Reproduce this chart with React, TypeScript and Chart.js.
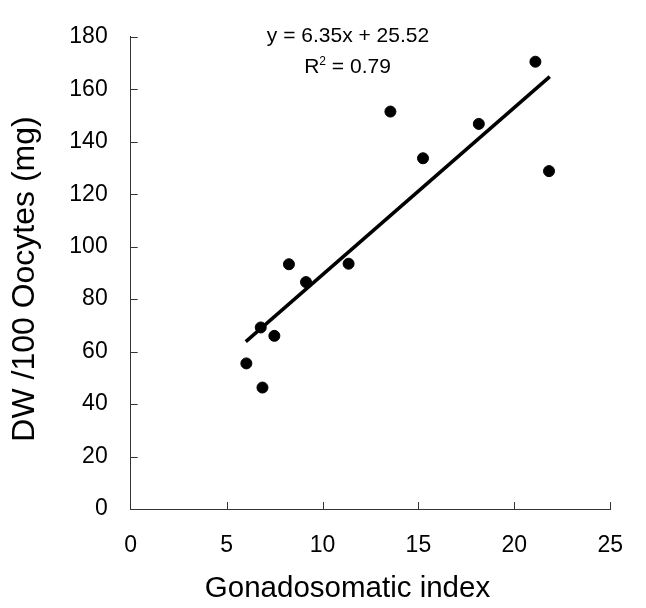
import React, { useEffect, useRef } from "react";
import { Chart, registerables } from "chart.js";

Chart.register(...registerables);

// ---- data ----
const gsi = [6.03, 6.87, 6.78, 7.49, 8.25, 9.14, 11.36, 13.54, 15.24, 18.15, 21.1, 21.81];
const dwPer100 = [55.5, 46.3, 69.2, 66.0, 93.3, 86.5, 93.5, 151.5, 133.7, 146.8, 170.5, 128.8];
const trendX = [6.0, 21.85];
const trendY = [63.8, 164.8];
const xTicks = [0, 5, 10, 15, 20, 25];
const yTicks = [0, 20, 40, 60, 80, 100, 120, 140, 160, 180];
const xTitle = "Gonadosomatic index";
const yTitle = "DW /100 Oocytes (mg)";
const eqLine = "y = 6.35x + 25.52";
const r2Value = "0.79";

const FONT = '"Liberation Sans", Arial, sans-serif';
const AXIS = "#333";

const decor = {
  id: "decor",
  afterDraw(chart: any) {
    const { ctx, scales } = chart;
    const xs = scales.x;
    const ys = scales.y;
    const bottom = ys.getPixelForValue(0);
    const left = xs.getPixelForValue(0);
    ctx.save();
    ctx.strokeStyle = AXIS;
    ctx.lineWidth = 1;
    ctx.beginPath();
    xTicks.filter((v) => v > 0).forEach((v) => {
      const px = Math.round(xs.getPixelForValue(v)) + 0.5;
      ctx.moveTo(px, bottom);
      ctx.lineTo(px, bottom - 7);
    });
    yTicks.filter((v) => v > 0).forEach((v) => {
      const py = Math.round(ys.getPixelForValue(v)) + 0.5;
      ctx.moveTo(left, py);
      ctx.lineTo(left + 7, py);
    });
    ctx.stroke();

    ctx.fillStyle = "#000";
    // x title
    ctx.font = `29.5px ${FONT}`;
    ctx.textAlign = "center";
    ctx.textBaseline = "alphabetic";
    ctx.fillText(xTitle, 347.5, 597);
    // y title
    ctx.save();
    ctx.font = `32px ${FONT}`;
    ctx.translate(34, 279);
    ctx.rotate(-Math.PI / 2);
    ctx.fillText(yTitle, 0, 0);
    ctx.restore();

    // equation
    ctx.font = `21px ${FONT}`;
    ctx.textAlign = "center";
    ctx.fillText(eqLine, 348, 41.7);
    ctx.textAlign = "left";
    const rW = ctx.measureText("R").width;
    const restText = " = " + r2Value;
    const restW = ctx.measureText(restText).width;
    ctx.font = `12px ${FONT}`;
    const supW = ctx.measureText("2").width;
    const total = rW + supW + restW;
    let sx = 347.5 - total / 2;
    ctx.font = `21px ${FONT}`;
    ctx.fillText("R", sx, 72.7);
    sx += rW;
    ctx.font = `12px ${FONT}`;
    ctx.fillText("2", sx, 64.6);
    sx += supW;
    ctx.font = `21px ${FONT}`;
    ctx.fillText(restText, sx, 72.7);
    ctx.restore();
  },
};

export default function App() {
  const canvasRef = useRef<HTMLCanvasElement | null>(null);

  useEffect(() => {
    if (!canvasRef.current) return;
    const chart = new Chart(canvasRef.current, {
      type: "scatter",
      data: {
        datasets: [
          {
            type: "scatter",
            data: gsi.map((x, i) => ({ x, y: dwPer100[i] })),
            backgroundColor: "#000",
            borderColor: "#000",
            pointRadius: 5.5,
            pointBorderWidth: 1,
          },
          {
            type: "line",
            data: trendX.map((x, i) => ({ x, y: trendY[i] })),
            borderColor: "#000",
            borderWidth: 3.5,
            pointRadius: 0,
            fill: false,
          } as any,
        ],
      },
      options: {
        animation: false,
        responsive: false,
        devicePixelRatio: 1,
        events: [],
        layout: { padding: { left: 0, top: 24, right: 27.7, bottom: 0 } },
        plugins: { legend: { display: false }, tooltip: { enabled: false } },
        scales: {
          x: {
            type: "linear",
            min: 0,
            max: 25,
            afterBuildTicks: (s: any) => {
              s.ticks = xTicks.map((v) => ({ value: v }));
            },
            afterFit: (s: any) => {
              s.height = 99;
            },
            grid: { display: false, drawTicks: false },
            border: { display: true, color: AXIS, width: 1 },
            ticks: {
              padding: 23,
              color: "#000",
              font: { family: FONT, size: 23 },
              maxRotation: 0,
              autoSkip: false,
            },
          },
          y: {
            type: "linear",
            min: 0,
            max: 180,
            afterBuildTicks: (s: any) => {
              s.ticks = yTicks.map((v) => ({ value: v }));
            },
            afterFit: (s: any) => {
              s.width = 130.7;
            },
            grid: { display: false, drawTicks: false },
            border: { display: true, color: AXIS, width: 1 },
            ticks: {
              padding: 23,
              color: "#000",
              font: { family: FONT, size: 23 },
              autoSkip: false,
            },
          },
        },
      },
      plugins: [decor],
    });
    return () => chart.destroy();
  }, []);

  return (
    <div style={{ position: "fixed", left: 0, top: 0, width: 646, height: 608, background: "#fff" }}>
      <canvas ref={canvasRef} width={646} height={608} style={{ display: "block" }} />
    </div>
  );
}
